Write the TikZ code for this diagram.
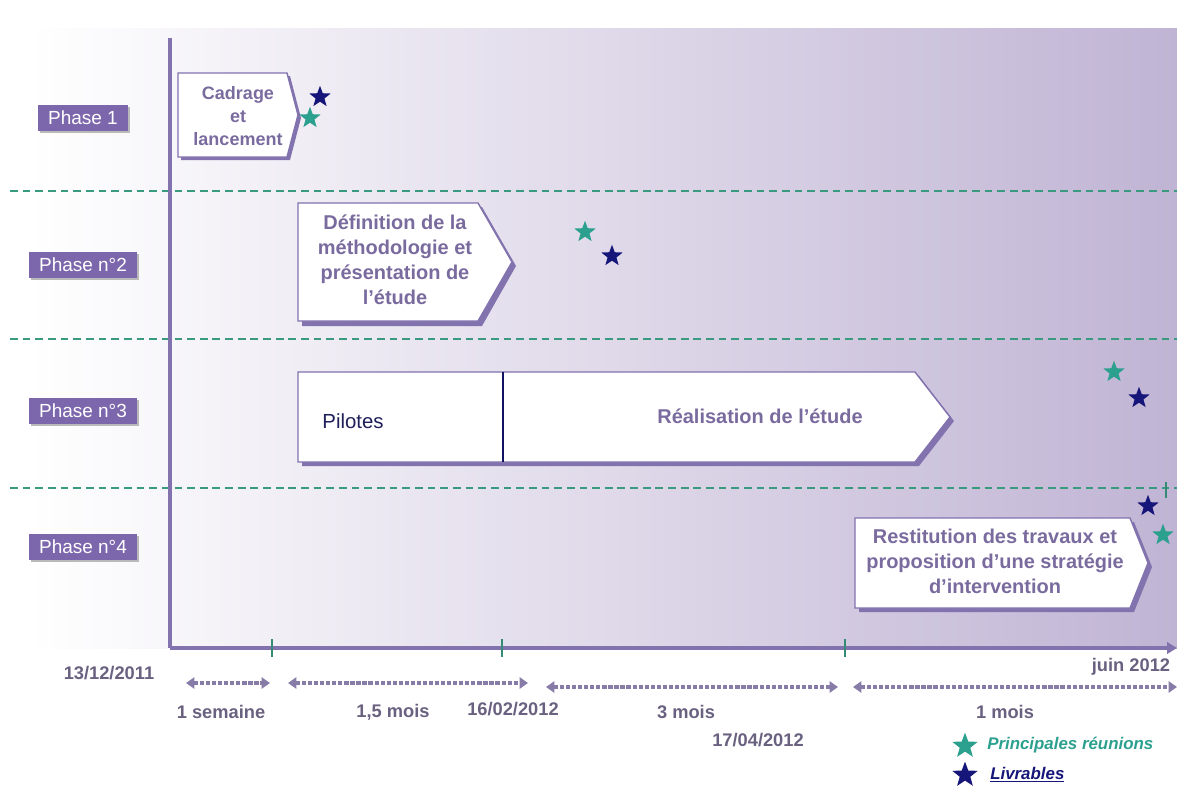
\documentclass[tikz,border=0pt]{standalone}
\usepackage{fontspec}
\setmainfont{Liberation Sans}
\usetikzlibrary{arrows.meta,shapes.geometric,shadows}
\definecolor{axisc}{HTML}{8272AE}
\definecolor{phasefill}{HTML}{7D67AC}
\definecolor{boxtxt}{HTML}{7A6B9F}
\definecolor{greenline}{HTML}{3A9A80}
\definecolor{tealstar}{HTML}{2CA08E}
\definecolor{navystar}{HTML}{16167A}
\definecolor{datetxt}{HTML}{6A6180}
\definecolor{bgright}{HTML}{C0B4D4}
\definecolor{durc}{HTML}{877CA8}
\definecolor{pilotc}{HTML}{1F1F5A}
\tikzset{
  boxtext/.style={font=\bfseries\fontsize{14.2pt}{17.8pt}\selectfont, text=boxtxt, align=center, inner sep=0pt},
  chevshadow/.style={fill=axisc},
  chevbox/.style={fill=white, draw=axisc, line width=1pt},
  phaselbl/.style={fill=phasefill, text=white, font=\fontsize{13.5pt}{15pt}\selectfont, inner xsep=7pt, minimum height=19pt, drop shadow={shadow xshift=1.5pt, shadow yshift=-1.5pt, fill=gray!55, opacity=1}},
  phasesep/.style={draw=greenline, line width=1.1pt, dash pattern=on 5.5pt off 3.5pt},
  tick/.style={draw=greenline!90!black, line width=1.5pt},
  mstar/.style={star, star points=5, star point ratio=2.4, minimum size=16pt, inner sep=0pt},
  teal/.style={mstar, fill=tealstar},
  navy/.style={mstar, fill=navystar},
  datelbl/.style={font=\bfseries\fontsize{13pt}{15pt}\selectfont, text=datetxt, inner sep=0pt},
  durarrow/.style={draw=durc, line width=3.2pt, dash pattern=on 3pt off 1.3pt, {Triangle[length=6pt,width=8pt]}-{Triangle[length=6pt,width=8pt]}},
}
\begin{document}
\begin{tikzpicture}[x=0.025cm, y=-0.025cm]
\useasboundingbox (0,0) rectangle (1177,785);
% background
\fill[left color=white, right color=bgright] (30,28) rectangle (1177,648);

% phase separators
\draw[phasesep] (10,191) -- (1177,191);
\draw[phasesep] (10,339) -- (1177,339);
\draw[phasesep] (10,488) -- (1177,488);

% axes
\coordinate (ytop) at (170,38);
\coordinate (origin) at (170,648);
\coordinate (xend) at (1177,648);
\draw[axisc, line width=3pt] (ytop) -- (origin);
\draw[axisc, line width=3pt, -{Triangle[length=7pt,width=8pt]}] (origin) -- (xend);
\foreach \x in {272,502,845} \draw[tick] (\x,639) -- (\x,657);
\draw[tick] (1166,482) -- (1166,498);

% phase labels
\node[phaselbl] (p1) at (83,118) {Phase 1};
\node[phaselbl] (p2) at (83,265) {Phase n°2};
\node[phaselbl] (p3) at (83,411) {Phase n°3};
\node[phaselbl] (p4) at (83,547) {Phase n°4};

% box 1
\fill[chevshadow] (181,76) -- (290,76) -- (301,118) -- (290,160) -- (181,160) -- cycle;
\draw[chevbox] (178,73) -- (287,73) -- (298,115) -- (287,157) -- (178,157) -- cycle;
\node[boxtext, font=\bfseries\fontsize{12.8pt}{16.4pt}\selectfont] (b1) at (238,116) {Cadrage\\et\\lancement};

% box 2
\fill[chevshadow] (302,207) -- (482,207) -- (516,266) -- (482,326) -- (302,326) -- cycle;
\draw[chevbox] (298,203) -- (478,203) -- (512,262) -- (478,321) -- (298,321) -- cycle;
\node[boxtext] (b2) at (395,260) {Définition de la\\méthodologie et\\présentation de\\l’étude};

% box 3
\fill[chevshadow] (302,376) -- (919,376) -- (954,421) -- (919,466) -- (302,466) -- cycle;
\draw[chevbox] (298,372) -- (915,372) -- (950,417) -- (915,462) -- (298,462) -- cycle;
\draw[navystar!80!black, line width=1pt] (503,372) -- (503,462);
\node[font=\fontsize{14.5pt}{17pt}\selectfont, text=pilotc, inner sep=0pt] (pil) at (353,421) {Pilotes};
\node[boxtext] (b3) at (760,416) {Réalisation de l'étude};

% box 4
\fill[chevshadow] (859,522) -- (1134,522) -- (1152,567) -- (1134,612) -- (859,612) -- cycle;
\draw[chevbox] (855,518) -- (1130,518) -- (1148,563) -- (1130,608) -- (855,608) -- cycle;
\node[boxtext] (b4) at (995,561) {Restitution des travaux et\\proposition d'une stratégie\\d'intervention};

% stars
\node[navy] (s1n) at (320,97) {};
\node[teal] (s1t) at (310,118) {};
\node[teal] (s2t) at (585,232) {};
\node[navy] (s2n) at (612,256) {};
\node[teal] (s3t) at (1114,372) {};
\node[navy] (s3n) at (1139,398) {};
\node[navy] (s4n) at (1148,506) {};
\node[teal] (s4t) at (1163,535) {};

% durations
\coordinate (a1s) at (186,683); \coordinate (a1e) at (270,683);
\coordinate (a2s) at (288,683); \coordinate (a2e) at (528,683);
\coordinate (a3s) at (546,687); \coordinate (a3e) at (838,687);
\coordinate (a4s) at (853,687); \coordinate (a4e) at (1177,687);
\draw[durarrow] (a1s) -- (a1e);
\draw[durarrow] (a2s) -- (a2e);
\draw[durarrow] (a3s) -- (a3e);
\draw[durarrow] (a4s) -- (a4e);

% labels
\node[datelbl] (d0) at (109,673) {13/12/2011};
\node[datelbl] (d5) at (1131,667) {juin 2012};
\node[datelbl] (l1) at (221,712) {1 semaine};
\node[datelbl] (l2) at (393,712) {1,5 mois};
\node[datelbl] (d2) at (513,709) {16/02/2012};
\node[datelbl] (l3) at (686,712) {3 mois};
\node[datelbl] (d3) at (758,740) {17/04/2012};
\node[datelbl] (l4) at (1005,712) {1 mois};

% legend
\node[teal, minimum size=19pt] (lg1) at (965,746) {};
\node[navy, minimum size=19pt] (lg2) at (965,775) {};
\node[anchor=west, font=\bfseries\itshape\fontsize{12pt}{14pt}\selectfont, text=tealstar, inner sep=0pt] (lt1) at (987,745) {Principales réunions};
\node[anchor=west, font=\bfseries\itshape\fontsize{12pt}{14pt}\selectfont, text=navystar, inner sep=0pt] (lt2) at (990,775) {\underline{Livrables}};
\end{tikzpicture}
\end{document}
